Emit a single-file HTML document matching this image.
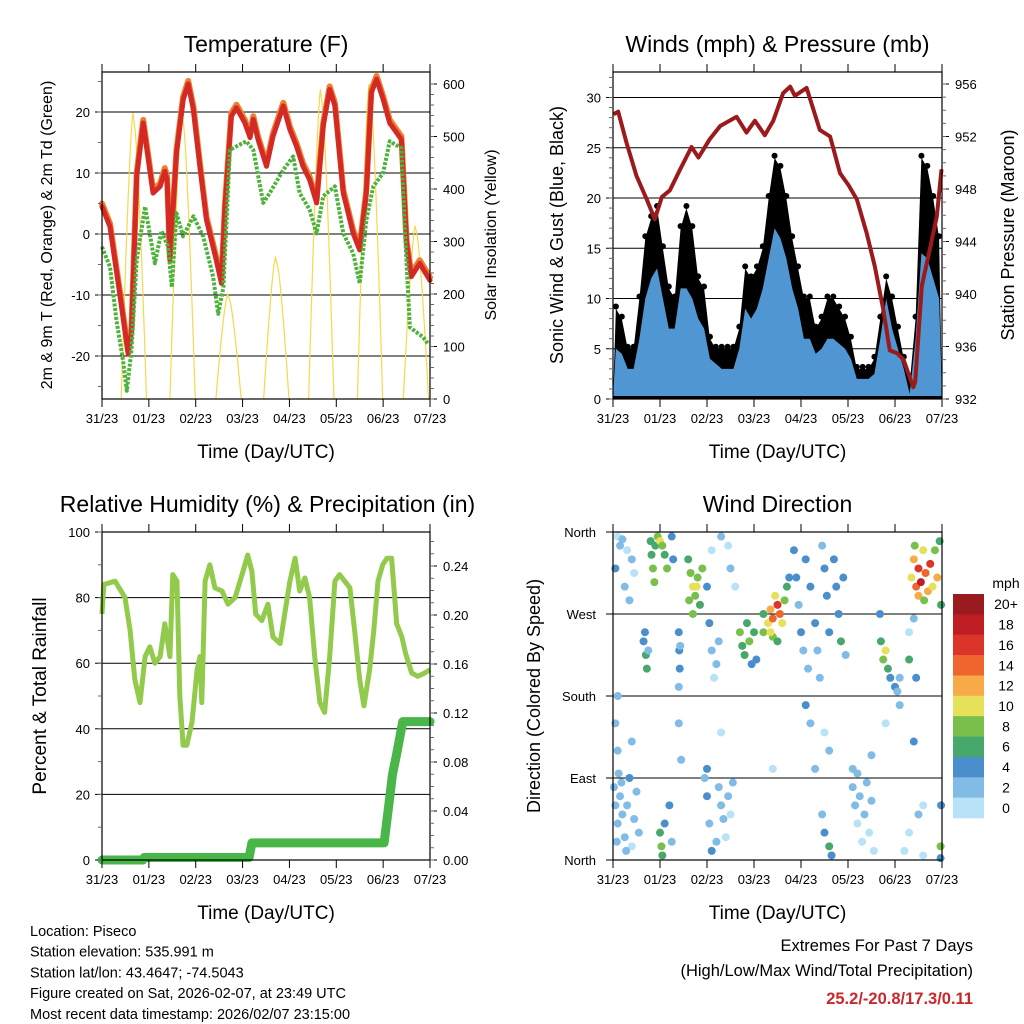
<!DOCTYPE html>
<html><head><meta charset="utf-8"><style>
body{margin:0;background:#fff;}
svg{display:block;font-family:"Liberation Sans",Arial,sans-serif;}
</style></head><body>
<svg id="s" width="1024" height="1024" viewBox="0 0 1024 1024">
<rect width="1024" height="1024" fill="#fff"/>
<g id="g"></g>
</svg>
<script>
// ---------- DATA ----------
const dayLabels=["31/23","01/23","02/23","03/23","04/23","05/23","06/23","07/23"];
// Temperature (days since start, degF)
const tDays=[0,0.17,0.38,0.56,0.63,0.74,0.88,1.09,1.24,1.34,1.39,1.45,1.59,1.73,1.84,1.95,2.09,2.23,2.44,2.55,2.62,2.76,2.87,3.05,3.16,3.23,3.33,3.51,3.65,3.87,4.01,4.15,4.29,4.43,4.58,4.72,4.86,4.97,5.15,5.36,5.5,5.64,5.75,5.86,6.0,6.14,6.39,6.5,6.6,6.78,7];
const tVals=[4.5,1.2,-9.8,-19.7,-16,9.5,18.2,6.7,7.8,10.3,8.9,-4.3,13.3,22,24.6,20.4,11.1,2.3,-4.3,-8.1,4,19.3,20.7,18.2,15.8,18.8,15.5,11.1,16,21,17.1,14.4,11.1,8.9,5.1,17.7,23.7,21,6.7,0.1,-2.6,6.7,23.2,25.4,22.1,18.2,15.5,-1.6,-7,-4.8,-7.6];
const tdDays=[0,0.17,0.31,0.45,0.53,0.63,0.74,0.92,1.13,1.27,1.41,1.49,1.59,1.73,1.95,2.16,2.37,2.48,2.59,2.73,3.08,3.23,3.44,3.58,3.87,4.08,4.22,4.43,4.58,4.72,4.97,5.15,5.36,5.5,5.64,5.79,6.0,6.14,6.39,6.46,6.57,6.85,6.96];
const tdVals=[-2.1,-5.4,-14.2,-20.8,-25.7,-19,-4.3,4.5,-4.8,0.5,-2.1,-8.7,3.4,-0.4,2.9,-0.4,-7,-13.1,-8.7,13.8,15.2,13.8,5.1,6.7,10.5,12.7,6.7,4,0.1,6.2,7.8,0.1,-3.2,-8.1,2.3,7.8,10,15.2,14.1,1.2,-15.3,-16.9,-18];
const solarDays=[0.68,1.72,2.70,3.72,4.68,5.72,6.70];
const solarPeaks=[545,550,200,270,590,600,330];
// Winds (3-hour bins)
const windGust=[9,8,5,5,10,16,18,19,15,11,10,17,19,17,12,11,6,5,5,5,5,7,13,12,13,15,20,24,23,20,16,13,10,10,7,8,10,10,9,8,6,3,3,3,4,8,12,10,7,4,1.5,8,24,23,20,16];
const windSonic=[5,4.5,3,3,6,10,12,13,10,7,7,11,11,10,8,7,4,3.5,3,3,3,5,9,8,9,11,14,17,16,14,11,9,6,6,4.5,5,6,6,5.5,5,4,2,2,2,2.5,6,10,7,5,3,0.5,6,14.5,14,12,10];
const presDays=[0.01,0.11,0.29,0.50,0.72,0.89,1.04,1.21,1.43,1.67,1.82,2.06,2.28,2.63,2.84,3.02,3.23,3.41,3.62,3.77,3.87,4.12,4.40,4.62,4.83,5.01,5.19,5.40,5.57,5.75,5.89,6.04,6.18,6.39,6.43,6.57,6.74,6.89,6.99];
const presVals=[953.7,953.9,951.5,949.0,947.2,945.7,947.4,947.9,949.5,951.2,950.4,951.8,952.8,953.5,952.3,953.2,952.1,953.2,955.3,955.8,955.1,955.7,952.5,952.0,949.2,948.3,947.2,944.6,942.1,938.8,935.7,935.5,935.0,932.9,933.3,940.6,943.4,945.9,949.5];
// Humidity & precip
const rhDays=[0,0.04,0.28,0.49,0.6,0.7,0.81,0.92,1.02,1.13,1.24,1.34,1.45,1.51,1.6,1.66,1.73,1.81,1.92,2.03,2.09,2.13,2.2,2.3,2.41,2.56,2.69,2.84,3.01,3.11,3.2,3.28,3.41,3.54,3.65,3.8,3.9,4.01,4.12,4.22,4.33,4.43,4.54,4.65,4.75,4.86,4.97,5.07,5.18,5.29,5.39,5.5,5.59,5.71,5.8,5.89,5.99,6.08,6.18,6.29,6.4,6.48,6.61,6.74,6.89,7];
const rhVals=[75,84,85,80,70,55,48,62,65,60,62,72,62,87,85,50,35,35,42,58,62,48,85,90,83,82,78,80,88,93,88,75,73,78,68,66,75,85,92,82,86,80,62,48,45,62,85,87,85,83,70,55,47,58,70,85,90,92,92,72,68,63,57,56,57,58];
const prDays=[0,0.87,0.9,3.14,3.2,6.02,6.12,6.2,6.28,6.38,6.42,7];
const prVals=[0,0,0.002,0.002,0.014,0.014,0.045,0.07,0.085,0.105,0.113,0.113];
// Wind direction scatter: day, direction (deg), speed (mph)
const wdDay=[0.1,0.2,0.3,0.4,0.05,0.25,0.45,0.35,0.15,0.8,0.82,0.85,0.9,0.95,1.0,1.05,1.1,1.15,0.88,1.25,1.28,1.6,1.65,1.7,1.75,1.8,1.85,1.9,1.7,1.78,1.62,2.0,2.1,2.3,2.45,2.6,2.5,2.7,2.75,2.8,2.9,2.95,3.05,3.0,2.85,3.2,3.3,3.35,3.4,3.45,3.5,3.55,3.6,3.65,3.4,3.5,3.2,3.7,3.75,3.35,3.85,3.9,3.95,4.0,4.05,4.1,4.2,4.3,4.35,4.4,4.5,4.55,4.6,4.7,4.75,4.8,4.85,4.9,4.95,4.45,4.15,4.1,4.2,4.5,4.6,4.3,3.4,2.3,1.4,0.1,0.05,0.1,0.4,1.45,5.8,6.1,6.4,6.6,5.1,5.5,0.65,0.7,0.72,0.68,0.75,1.4,1.41,1.42,1.4,1.43,2.05,2.1,2.2,2.25,2.15,5.7,5.75,5.8,5.85,5.9,6.0,6.05,6.1,5.68,6.3,6.4,6.45,6.3,6.35,6.4,6.45,6.5,6.55,6.6,6.65,6.7,6.75,6.8,6.85,6.9,6.95,6.5,6.62,6.42,6.98,0.02,0.05,0.1,0.15,0.2,0.25,0.3,0.35,0.4,0.45,0.5,0.55,0.08,0.18,0.28,0.12,1.0,1.03,1.05,1.1,1.2,1.25,1.95,2.0,2.05,2.1,2.25,2.3,2.35,2.4,2.45,2.5,2.55,2.2,2.0,4.5,4.6,4.65,4.45,5.1,5.15,5.2,5.25,5.3,5.35,5.4,5.45,5.5,5.55,5.2,6.2,6.3,6.5,6.6,6.97,6.98,6.97];
const wdDir=[355,352,340,330,320,300,315,285,345,350,335,320,345,355,350,345,335,320,305,355,330,330,315,300,290,310,280,320,270,300,285,300,340,355,345,300,320,250,235,225,240,215,220,250,260,270,260,275,265,290,280,270,260,285,245,240,250,300,310,250,340,310,280,250,230,330,300,260,230,200,320,290,250,330,300,270,240,310,225,345,210,170,150,140,120,100,100,140,150,180,150,120,130,110,150,170,130,60,100,115,240,225,210,250,230,250,230,210,190,235,260,230,215,240,200,240,220,230,210,200,190,185,200,270,250,265,200,220,310,330,300,320,305,340,315,295,325,300,340,310,350,290,285,345,280,80,60,40,70,50,25,60,90,15,45,75,30,20,85,10,95,30,15,5,40,60,20,90,70,40,10,80,60,45,25,70,50,85,20,100,30,15,5,50,80,60,40,70,20,50,85,30,65,10,95,10,30,50,5,15,60,2];
const wdSpd=[0,2,0,2,4,2,0,2,2,6,6,8,6,8,10,8,6,8,8,4,4,6,8,10,8,8,6,8,8,10,8,4,0,2,0,0,2,8,6,6,8,4,4,6,6,6,10,12,14,10,16,14,10,8,8,6,8,6,4,10,4,4,2,4,2,4,4,4,2,2,4,4,4,4,4,4,6,4,2,2,2,4,2,0,2,2,0,0,2,2,2,2,2,2,0,2,4,0,2,2,4,6,6,4,2,4,4,4,2,2,4,2,2,2,0,6,8,10,6,4,4,2,2,4,0,2,4,6,10,12,14,16,18,10,14,12,16,10,8,12,6,12,8,8,6,2,2,2,2,2,2,2,4,0,2,2,2,2,2,2,2,6,8,6,4,4,2,2,4,2,4,2,2,2,0,2,0,2,2,4,4,6,4,2,2,2,0,2,0,2,2,0,2,0,2,0,0,2,0,8,4,4];
const cbLabels=["0","2","4","6","8","10","12","14","16","18","20+"];
const cbColors=["#b8e2f7","#80bce6","#4a8fcb","#47a86b","#79bf4b","#e6e05a","#f7ab48","#ef652e","#dd3429","#bf1d24","#991a1f"];

// ---------- HELPERS ----------
const NS="http://www.w3.org/2000/svg";
const G=document.getElementById('g');
function el(tag,attrs,parent,text){const e=document.createElementNS(NS,tag);for(const k in attrs)e.setAttribute(k,attrs[k]);if(text!==undefined)e.textContent=text;(parent||G).appendChild(e);return e;}
function lin(d0,d1,r0,r1){return v=>r0+(v-d0)*(r1-r0)/(d1-d0);}
function pathFrom(xs,ys,fx,fy){return xs.map((d,i)=>(i?'L':'M')+fx(d).toFixed(1)+','+fy(ys[i]).toFixed(1)).join('');}

function frame(P,name){
  const g=el('g',{});
  
  
  return g;
}
function xAxis(g,P,fx){
  for(let d=0;d<=7;d++){
    const x=fx(d);
    el('line',{x1:x,x2:x,y1:P.b,y2:P.b+8,stroke:'#000','stroke-width':1},g);
    el('line',{x1:x,x2:x,y1:P.t,y2:P.t-8,stroke:'#000','stroke-width':1},g);
    const t=el('text',{x:x,y:P.b+24,'font-size':13,'text-anchor':'middle'},g,dayLabels[d]);
    
    
  }
  const xt=el('text',{x:(P.l+P.r)/2,y:P.b+59,'font-size':19,'text-anchor':'middle'},g,'Time (Day/UTC)');
  
  
}
function border(g,P){el('rect',{x:P.l,y:P.t,width:P.r-P.l,height:P.b-P.t,fill:'none',stroke:'#000','stroke-width':1.2},g);}
function title(g,P,txt){const t=el('text',{x:(P.l+P.r)/2,y:P.t-20,'font-size':23,'text-anchor':'middle'},g,txt);}
function yTitle(g,x,y,txt,size){const t=el('text',{x:0,y:0,'font-size':size||17,'text-anchor':'middle',transform:`translate(${x},${y}) rotate(-90)`},g,txt);}
function yTicks(g,P,fy,vals,labels,side,minorStep,lo,hi){
  vals.forEach((v,i)=>{
    const y=fy(v);
    if(side==='L'){el('line',{x1:P.l-7,x2:P.l,y1:y,y2:y,stroke:'#000'},g);
      const t=el('text',{x:P.l-12,y:y+5,'font-size':13,'text-anchor':'end'},g,labels[i]);}
    else{el('line',{x1:P.r,x2:P.r+7,y1:y,y2:y,stroke:'#000'},g);
      const t=el('text',{x:P.r+13,y:y+5,'font-size':13,'text-anchor':'start'},g,labels[i]);}
  });
  if(minorStep){for(let v=lo;v<=hi+1e-9;v+=minorStep){const y=fy(v);if(y<P.t-0.5||y>P.b+0.5)continue;
    if(side==='L')el('line',{x1:P.l-4,x2:P.l,y1:y,y2:y,stroke:'#666'},g);else el('line',{x1:P.r,x2:P.r+4,y1:y,y2:y,stroke:'#666'},g);}}
}

// ---------- PANEL 1: TEMPERATURE ----------
(function(){
  const P={l:102,r:430,t:72,b:399};
  const g=frame(P,'temperature-panel');
  const fx=lin(0,7,P.l,P.r), fy=lin(0,20,234,112), fs=lin(0,600,399,84);
  [20,10,0,-10,-20].forEach(v=>el('line',{x1:P.l,x2:P.r,y1:fy(v),y2:fy(v),stroke:'#000','stroke-width':1},g));
  solarDays.forEach((c,i)=>{
    const pk=solarPeaks[i];
    const d=`M${fx(c-0.27)},${fs(0)}Q${fx(c-0.1)},${fs(pk*0.9)} ${fx(c-0.02)},${fs(pk)}L${fx(c+0.02)},${fs(pk*0.95)}Q${fx(c+0.1)},${fs(pk*0.85)} ${fx(c+0.27)},${fs(0)}`;
    const p=el('path',{d:d,fill:'none',stroke:'#f8d84a','stroke-width':1.2},g);
    
    
  });
  const o=el('path',{d:pathFrom(tDays,tVals.map(v=>v+0.5),fx,fy),fill:'none',stroke:'#f07f2e','stroke-width':6,'stroke-linejoin':'round','stroke-linecap':'round'},g);
  
  
  const r=el('path',{d:pathFrom(tDays,tVals,fx,fy),fill:'none',stroke:'#d42a26','stroke-width':5,'stroke-linejoin':'round','stroke-linecap':'round'},g);
  
  
  const gd=el('path',{d:pathFrom(tdDays,tdVals,fx,fy),fill:'none',stroke:'#4fb23c','stroke-width':4,'stroke-dasharray':'3 1.5','stroke-linejoin':'round'},g);
  
  
  border(g,P);xAxis(g,P,fx);title(g,P,'Temperature (F)');
  yTicks(g,P,fy,[20,10,0,-10,-20],['20','10','0','-10','-20'],'L',5,-25,25);
  yTicks(g,P,fs,[0,100,200,300,400,500,600],['0','100','200','300','400','500','600'],'R',20,0,600);
  yTitle(g,52,235,'2m & 9m T (Red, Orange) & 2m Td (Green)',16);
  yTitle(g,496,235,'Solar Insolation (Yellow)',16);
})();

// ---------- PANEL 2: WINDS ----------
(function(){
  const P={l:613,r:942,t:72,b:399};
  const g=frame(P,'winds-panel');
  const fx=lin(0,7,P.l,P.r), fy=lin(0,30,399,97.5), fp=lin(932,956,399,84);
  [5,10,15,20,25,30].forEach(v=>el('line',{x1:P.l,x2:P.r,y1:fy(v),y2:fy(v),stroke:'#000','stroke-width':1},g));
  const n=windGust.length, bw=7/n;
  const cx=i=>(i+0.5)*bw;
  let d='M'+fx(0)+','+fy(0);
  windGust.forEach((v,i)=>{d+='L'+fx(cx(i)).toFixed(1)+','+fy(v).toFixed(1);});
  d+='L'+fx(7)+','+fy(0)+'Z';
  const gc=el('path',{d:d,fill:'#000',stroke:'none'},g);
  
  
  windGust.forEach((v,i)=>{const c=el('circle',{cx:fx(cx(i)),cy:fy(v)-2,r:3,fill:'#000'},g);
    
    });
  let d2='M'+fx(0)+','+fy(0.3);
  windSonic.forEach((v,i)=>{d2+='L'+fx(cx(i)).toFixed(1)+','+fy(v).toFixed(1);});
  d2+='L'+fx(7)+','+fy(0.3)+'Z';
  const sc=el('path',{d:d2,fill:'#4f96d3',stroke:'none'},g);
  
  
  const pr=el('path',{d:pathFrom(presDays,presVals,fx,fp),fill:'none',stroke:'#9c1a1c','stroke-width':4,'stroke-linejoin':'round'},g);
  
  
  border(g,P);xAxis(g,P,fx);title(g,P,'Winds (mph) & Pressure (mb)');
  yTicks(g,P,fy,[0,5,10,15,20,25,30],['0','5','10','15','20','25','30'],'L',1,0,32);
  yTicks(g,P,fp,[932,936,940,944,948,952,956],['932','936','940','944','948','952','956'],'R',1,932,957);
  yTitle(g,563,235,'Sonic Wind & Gust (Blue, Black)',18);
  yTitle(g,1014,235,'Station Pressure (Maroon)',18);
})();

// ---------- PANEL 3: HUMIDITY ----------
(function(){
  const P={l:102,r:430,t:532,b:860};
  const g=frame(P,'humidity-panel');
  const fx=lin(0,7,P.l,P.r), fy=lin(0,100,860,532), fr=lin(0,0.24,860,566);
  [20,40,60,80].forEach(v=>el('line',{x1:P.l,x2:P.r,y1:fy(v),y2:fy(v),stroke:'#000','stroke-width':1},g));
  const h=el('path',{d:pathFrom(rhDays,rhVals,fx,fy),fill:'none',stroke:'#92ca4c','stroke-width':5,'stroke-linejoin':'round'},g);
  
  
  const p=el('path',{d:pathFrom(prDays,prVals,fx,fr),fill:'none',stroke:'#48b648','stroke-width':9,'stroke-linejoin':'round','stroke-linecap':'round'},g);
  
  
  border(g,P);xAxis(g,P,fx);title(g,{l:60,r:475,t:532},'Relative Humidity (%) & Precipitation (in)');
  yTicks(g,P,fy,[0,20,40,60,80,100],['0','20','40','60','80','100'],'L',10,0,100);
  yTicks(g,P,fr,[0,0.04,0.08,0.12,0.16,0.2,0.24],['0.00','0.04','0.08','0.12','0.16','0.20','0.24'],'R',0.01,0,0.26);
  yTitle(g,46,696,'Percent & Total Rainfall',19);
})();

// ---------- PANEL 4: WIND DIRECTION ----------
(function(){
  const P={l:613,r:942,t:532,b:860};
  const g=frame(P,'wind-direction-panel');
  const fx=lin(0,7,P.l,P.r), fy=lin(0,360,860,532);
  [90,180,270].forEach(v=>el('line',{x1:P.l,x2:P.r,y1:fy(v),y2:fy(v),stroke:'#000','stroke-width':1},g));
  wdDay.forEach((d,i)=>{
    const s=wdSpd[i];const ci=Math.min(10,Math.max(0,Math.floor(s/2)));
    const c=el('circle',{cx:fx(d),cy:fy(wdDir[i]),r:4,fill:cbColors[ci]},g);
    
    
  });
  border(g,P);xAxis(g,P,fx);title(g,P,'Wind Direction');
  const dl=['North','East','South','West','North'];
  [0,90,180,270,360].forEach((v,i)=>{const y=fy(v);el('line',{x1:P.l-7,x2:P.l,y1:y,y2:y,stroke:'#000'},g);
    const t=el('text',{x:P.l-17,y:y+5,'font-size':13,'text-anchor':'end'},g,dl[i]);});
  yTitle(g,540,696,'Direction (Colored By Speed)',18);
  const cb=el('g',{},g);
  
  
  const top=594,bh=(818-594)/11;
  el('text',{x:1006,y:588,'font-size':14,'text-anchor':'middle'},cb,'mph');
  cbColors.forEach((c,i)=>{const k=10-i;
    el('rect',{x:953,y:top+i*bh,width:31,height:bh+0.3,fill:cbColors[k]},cb);
    el('text',{x:1006,y:top+i*bh+bh/2+5,'font-size':14,'text-anchor':'middle'},cb,cbLabels[k]);});
})();

// ---------- FOOTER TEXT ----------
const info=["Location: Piseco","Station elevation: 535.991 m","Station lat/lon: 43.4647; -74.5043","Figure created on Sat, 2026-02-07, at 23:49 UTC","Most recent data timestamp: 2026/02/07 23:15:00"];
info.forEach((s,i)=>{const t=el('text',{x:30,y:936+i*20.7,'font-size':14.5},G,s);
  
  });
const e1=el('text',{x:973,y:951,'font-size':16.5,'text-anchor':'end'},G,'Extremes For Past 7 Days');


const e2=el('text',{x:973,y:976,'font-size':16.5,'text-anchor':'end'},G,'(High/Low/Max Wind/Total Precipitation)');


const e3=el('text',{x:973,y:1004,'font-size':16.5,'text-anchor':'end','font-weight':'bold',fill:'#c8282b'},G,'25.2/-20.8/17.3/0.11');


</script>
</body></html>
